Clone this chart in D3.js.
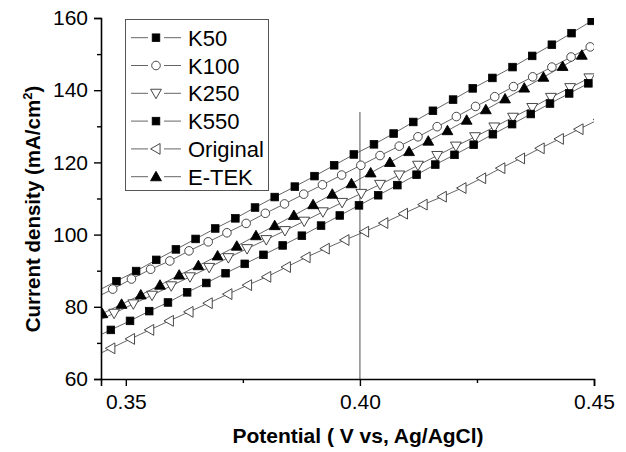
<!DOCTYPE html>
<html>
<head>
<meta charset="utf-8">
<script src="https://cdn.jsdelivr.net/npm/d3@7"></script>
<style>
  body { margin: 0; background: #fff; }
  svg { display: block; font-family: "Liberation Sans", Arial, sans-serif; }
</style>
</head>
<body>
<svg id="chart"></svg>
<script>
// potentials (V) and current densities (mA/cm2)
let k50X = [0.3438, 0.3480, 0.3522, 0.3565, 0.3607, 0.3649, 0.3691, 0.3734, 0.3776, 0.3818, 0.3861, 0.3903, 0.3945, 0.3987, 0.4030, 0.4072, 0.4114, 0.4156, 0.4199, 0.4241, 0.4283, 0.4326, 0.4368, 0.4410, 0.4452, 0.4495];
let k50Y = [84.3, 87.1, 89.9, 93.0, 95.9, 98.8, 101.7, 104.5, 107.5, 110.4, 113.3, 116.2, 119.2, 122.2, 125.0, 128.0, 131.2, 134.3, 137.4, 140.5, 143.4, 146.4, 149.5, 152.6, 155.8, 159.2];

let k100X = [0.3431, 0.3472, 0.3512, 0.3553, 0.3594, 0.3635, 0.3676, 0.3716, 0.3757, 0.3798, 0.3839, 0.3880, 0.3920, 0.3961, 0.4002, 0.4043, 0.4084, 0.4124, 0.4165, 0.4206, 0.4247, 0.4288, 0.4328, 0.4369, 0.4410, 0.4451, 0.4492];
let k100Y = [82.2, 84.9, 87.7, 90.4, 92.7, 95.5, 98.0, 100.5, 103.1, 105.9, 108.5, 111.2, 113.8, 116.5, 119.2, 121.9, 124.5, 127.1, 129.9, 132.7, 135.5, 138.2, 141.0, 143.7, 146.4, 149.2, 152.0];

let k250X = [0.3434, 0.3475, 0.3516, 0.3556, 0.3597, 0.3637, 0.3678, 0.3719, 0.3759, 0.3800, 0.3840, 0.3881, 0.3921, 0.3962, 0.4003, 0.4043, 0.4084, 0.4124, 0.4165, 0.4205, 0.4246, 0.4287, 0.4327, 0.4368, 0.4408, 0.4449, 0.4490];
let k250Y = [75.7, 78.2, 80.8, 83.2, 85.8, 88.3, 90.9, 93.6, 96.1, 98.6, 101.1, 103.7, 106.3, 108.9, 111.4, 113.9, 116.5, 119.2, 121.9, 124.5, 127.1, 129.8, 132.5, 135.2, 138.0, 140.7, 143.4];

let k550X = [0.3427, 0.3468, 0.3509, 0.3550, 0.3590, 0.3631, 0.3672, 0.3713, 0.3754, 0.3794, 0.3835, 0.3876, 0.3917, 0.3957, 0.3998, 0.4039, 0.4080, 0.4121, 0.4161, 0.4202, 0.4243, 0.4284, 0.4325, 0.4365, 0.4406, 0.4447, 0.4488];
let k550Y = [71.1, 73.6, 76.1, 78.8, 81.2, 84.0, 86.6, 89.3, 91.9, 94.4, 97.0, 99.7, 102.5, 105.3, 108.1, 110.9, 113.7, 116.6, 119.4, 122.1, 124.9, 127.8, 130.6, 133.4, 136.3, 139.1, 141.9];

let origX = [0.3426, 0.3468, 0.3510, 0.3551, 0.3593, 0.3635, 0.3676, 0.3718, 0.3760, 0.3801, 0.3843, 0.3885, 0.3926, 0.3968, 0.4010, 0.4051, 0.4093, 0.4135, 0.4176, 0.4218, 0.4260, 0.4301, 0.4343, 0.4385, 0.4426, 0.4468, 0.4510];
let origY = [65.9, 68.5, 71.1, 73.6, 76.1, 78.6, 81.0, 83.5, 86.0, 88.3, 91.0, 93.7, 96.1, 98.5, 100.8, 103.2, 105.8, 108.3, 110.5, 112.9, 115.6, 118.4, 121.1, 123.9, 126.5, 129.2, 131.9];

let etekX = [0.3450, 0.3491, 0.3532, 0.3573, 0.3614, 0.3655, 0.3696, 0.3737, 0.3778, 0.3818, 0.3859, 0.3900, 0.3941, 0.3982, 0.4023, 0.4064, 0.4105, 0.4146, 0.4187, 0.4228, 0.4269, 0.4310, 0.4351, 0.4392, 0.4433, 0.4474];
let etekY = [78.1, 80.7, 83.3, 86.0, 88.8, 91.4, 94.1, 96.8, 99.7, 102.5, 105.3, 108.3, 111.2, 114.1, 117.1, 120.0, 123.0, 125.9, 128.8, 131.7, 134.6, 137.6, 140.6, 143.6, 146.6, 149.7];

let seriesNames = ["K50", "K100", "K250", "K550", "Original", "E-TEK"];
let seriesSymbols = ["square", "circle", "triangleDown", "square", "triangleLeft", "triangleUp"];
let seriesFilled = [true, false, false, true, false, true];

let xTicks = [0.35, 0.40, 0.45];
let xMinorTicks = [0.375, 0.425];
let yTicks = [60, 80, 100, 120, 140, 160];
let yMinorTicks = [70, 90, 110, 130, 150];
let refLine = 0.40;

let width = 626;
let height = 452;
let plotLeft = 101, plotRight = 594, plotTop = 18, plotBottom = 379;

let svg = d3.select("#chart")
    .attr("width", width)
    .attr("height", height);

let xScale = d3.scaleLinear()
    .domain([0.3447, 0.45])
    .range([plotLeft, plotRight]);

let yScale = d3.scaleLinear()
    .domain([60, 160])
    .range([plotBottom, plotTop]);

svg.append("clipPath")
    .attr("id", "plotclip")
    .append("rect")
    .attr("x", plotLeft)
    .attr("y", plotTop)
    .attr("width", plotRight - plotLeft)
    .attr("height", plotBottom - plotTop);

// vertical marker at 0.40 V
svg.append("line")
    .attr("x1", xScale(refLine))
    .attr("x2", xScale(refLine))
    .attr("y1", 112)
    .attr("y2", plotBottom)
    .attr("stroke", "#8a8a8a")
    .attr("stroke-width", 1.5);

let drawSymbol = (g, type, filled, cx, cy) => {
    let fill = filled ? "#000" : "#fff";
    let stroke = filled ? "#000" : "#333";
    if (type == "square") {
        g.append("rect")
            .attr("x", cx - 3.8).attr("y", cy - 3.8)
            .attr("width", 7.6).attr("height", 7.6)
            .attr("fill", fill).attr("stroke", stroke).attr("stroke-width", 0.8);
    } else if (type == "circle") {
        g.append("circle")
            .attr("cx", cx).attr("cy", cy).attr("r", 4.3)
            .attr("fill", fill).attr("stroke", stroke).attr("stroke-width", 0.9);
    } else {
        let s = 5.4;
        let pts;
        if (type == "triangleUp") pts = [[cx, cy - s], [cx + s, cy + s * 0.75], [cx - s, cy + s * 0.75]];
        if (type == "triangleDown") pts = [[cx - s, cy - s * 0.75], [cx + s, cy - s * 0.75], [cx, cy + s]];
        if (type == "triangleLeft") pts = [[cx - s, cy], [cx + s * 0.75, cy - s], [cx + s * 0.75, cy + s]];
        g.append("polygon")
            .attr("points", pts.map(p => p.join(",")).join(" "))
            .attr("fill", fill).attr("stroke", stroke).attr("stroke-width", 0.9);
    }
};

let allX = [k50X, k100X, k250X, k550X, origX, etekX];
let allY = [k50Y, k100Y, k250Y, k550Y, origY, etekY];

let plot = svg.append("g").attr("clip-path", "url(#plotclip)");

let line = d3.line()
    .x(d => xScale(d[0]))
    .y(d => yScale(d[1]));

seriesNames.forEach((name, s) => {
    let pts = allX[s].map((x, i) => [x, allY[s][i]]);
    plot.append("path")
        .datum(pts)
        .attr("d", line)
        .attr("fill", "none")
        .attr("stroke", "#555")
        .attr("stroke-width", 0.9);
});

seriesNames.forEach((name, s) => {
    let g = plot.append("g");
    allX[s].forEach((x, i) => {
        drawSymbol(g, seriesSymbols[s], seriesFilled[s], xScale(x), yScale(allY[s][i]));
    });
});

// axes
let xAxis = d3.axisBottom(xScale)
    .tickValues(xTicks)
    .tickFormat(d3.format(".2f"))
    .tickSize(7)
    .tickPadding(8);

let xMinor = d3.axisBottom(xScale)
    .tickValues(xMinorTicks)
    .tickFormat("")
    .tickSize(4);

let yAxis = d3.axisLeft(yScale)
    .tickValues(yTicks)
    .tickFormat(d3.format("d"))
    .tickSize(7)
    .tickPadding(6);

let yMinor = d3.axisLeft(yScale)
    .tickValues(yMinorTicks)
    .tickFormat("")
    .tickSize(4);

let styleAxis = (g) => {
    g.select(".domain").attr("stroke", "#000").attr("stroke-width", 1.6);
    g.selectAll(".tick line").attr("stroke", "#000").attr("stroke-width", 1.4);
    g.selectAll(".tick text")
        .attr("font-size", 21)
        .attr("font-family", "Liberation Sans, Arial, sans-serif")
        .attr("fill", "#000");
};

svg.append("g")
    .attr("transform", "translate(0," + plotBottom + ")")
    .call(xAxis)
    .call(styleAxis);

svg.append("g")
    .attr("transform", "translate(0," + plotBottom + ")")
    .call(xMinor)
    .call(styleAxis)
    .select(".domain").remove();

svg.append("g")
    .attr("transform", "translate(" + plotLeft + ",0)")
    .call(yAxis)
    .call(styleAxis);

svg.append("g")
    .attr("transform", "translate(" + plotLeft + ",0)")
    .call(yMinor)
    .call(styleAxis)
    .select(".domain").remove();

// axis titles
svg.append("text")
    .attr("x", 358)
    .attr("y", 443)
    .attr("text-anchor", "middle")
    .attr("font-size", 21)
    .attr("font-weight", "bold")
    .text("Potential ( V vs, Ag/AgCl)");

let yTitle = svg.append("text")
    .attr("transform", "translate(40,209) rotate(-90)")
    .attr("text-anchor", "middle")
    .attr("font-size", 20.5)
    .attr("font-weight", "bold");
yTitle.append("tspan").text("Current density (mA/cm");
yTitle.append("tspan").attr("font-size", 13).attr("dy", -8).text("2");
yTitle.append("tspan").attr("dy", 8).text(")");

// legend
let legend = svg.append("g");
legend.append("rect")
    .attr("x", 125.5)
    .attr("y", 19.5)
    .attr("width", 143)
    .attr("height", 171)
    .attr("fill", "#fff")
    .attr("stroke", "#555")
    .attr("stroke-width", 1);

seriesNames.forEach((name, s) => {
    let cy = 37.7 + s * 27.8;
    legend.append("line")
        .attr("x1", 131).attr("x2", 148).attr("y1", cy).attr("y2", cy)
        .attr("stroke", "#555").attr("stroke-width", 0.9);
    legend.append("line")
        .attr("x1", 164).attr("x2", 181).attr("y1", cy).attr("y2", cy)
        .attr("stroke", "#555").attr("stroke-width", 0.9);
    drawSymbol(legend, seriesSymbols[s], seriesFilled[s], 156, cy);
    legend.append("text")
        .attr("x", 188)
        .attr("y", cy + 8)
        .attr("font-size", 22)
        .text(name);
});
</script>
</body>
</html>
